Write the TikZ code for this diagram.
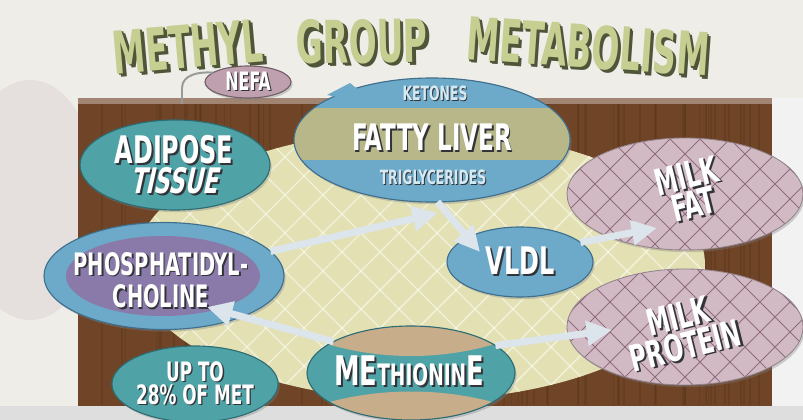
\documentclass[tikz,border=0pt]{standalone}
\usepackage{fontspec}
\usetikzlibrary{arrows.meta,shapes.geometric,shadows,calc}
\newfontfamily\impact[FakeStretch=0.7]{DejaVu Sans Condensed Bold}
\newfontfamily\impactsl[FakeStretch=0.7,FakeSlant=0.22]{DejaVu Sans Condensed Bold}
\newfontfamily\titlefont[FakeStretch=0.62]{DejaVu Sans Condensed Bold}

\definecolor{paper}{HTML}{EEEDE8}
\definecolor{board}{HTML}{6F4427}
\definecolor{boarddark}{HTML}{4E2E16}
\definecolor{pale}{HTML}{E3E1B3}
\definecolor{tealblob}{HTML}{4FA3A6}
\definecolor{tealedge}{HTML}{2E6C74}
\definecolor{sky}{HTML}{6DA9C8}
\definecolor{skyedge}{HTML}{3E6F8C}
\definecolor{skytext}{HTML}{D5E9F3}
\definecolor{khaki}{HTML}{B7B78A}
\definecolor{plum}{HTML}{8A7AAA}
\definecolor{mauve}{HTML}{BFA0AE}
\definecolor{milk}{HTML}{D2BAC5}
\definecolor{milkline}{HTML}{8E6C7C}
\definecolor{tanband}{HTML}{C8AD8A}
\definecolor{arrowfill}{HTML}{DCE5EC}
\definecolor{ttlface}{HTML}{C7CE91}
\definecolor{ttlshade}{HTML}{4E5538}
\definecolor{txtshade}{HTML}{33343A}

% white lettering with a dark drop
\newcommand{\sh}[1]{\leavevmode\rlap{\kern0.05em\raisebox{-0.05em}{\color{txtshade}#1}}#1}
% title lettering, pale face on a dark side
\newcommand{\ttl}[1]{\leavevmode\rlap{\kern2.4pt\raisebox{-2.4pt}{\color{ttlshade}#1}}\rlap{\kern1.2pt\raisebox{-1.2pt}{\color{ttlshade}#1}}{\color{ttlface}#1}}

\tikzset{
  blob/.style 2 args={ellipse, inner sep=0pt, outer sep=0pt,
    minimum width=#1*0.025cm, minimum height=#2*0.025cm,
    drop shadow={opacity=0.35, shadow xshift=1.2pt, shadow yshift=-1.6pt}},
  lbl/.style={text=white, align=center, inner sep=0pt},
  ttlword/.style={inner sep=0pt, font=\titlefont\fontsize{42}{42}\selectfont},
  bigarrow/.style={draw=arrowfill, line width=5pt, -{Triangle[length=18pt,width=17pt]}},
  greyline/.style={draw=black!40, line width=1.4pt},
  lattice/.style={draw=milkline, line width=0.6pt},
}

\begin{document}
\begin{tikzpicture}[x=0.025cm, y=-0.025cm]
\useasboundingbox (0,0) rectangle (803,420);

% backdrop
\fill[paper] (0,0) rectangle (803,420);
\fill[mauve!18!paper] (30,200) ellipse [x radius=70, y radius=120];
\fill[black!13] (0,406) rectangle (803,420);
\fill[black!5] (772,98) rectangle (803,406);

% wooden board
\fill[board] (78,98) rectangle (772,406);
\pgfmathsetseed{7}
\foreach \i in {1,...,70} {
  \pgfmathsetmacro\gx{80+690*rnd}
  \draw[boarddark, opacity=0.25, line width=1.3pt] (\gx,104) -- (\gx,405);
}
\fill[board!65!white] (78,98) rectangle (772,104);

% pale field
\begin{scope}
  \clip (420,265) ellipse [x radius=285, y radius=135];
  \fill[pale] (100,100) rectangle (760,420);
  \foreach \k in {-10,...,28} {
    \draw[white, opacity=0.55, line width=1pt] (\k*38,100) -- ++(320,320);
    \draw[white, opacity=0.55, line width=1pt] (\k*38,100) -- ++(-320,320);
  }
\end{scope}

% nefa link
\coordinate (nefaEnd) at (182,104);

% blobs
\node[blob={86}{32}, fill=mauve, draw=mauve!60!black, line width=0.8pt,
  font=\impact\fontsize{18}{18}\selectfont, text=white] (nefa) at (248,82) {\sh{NEFA}};
\draw[greyline] (nefa.165) to[out=175, in=90] (182,88) -- (nefaEnd);

\node[blob={276}{124}, fill=sky, draw=skyedge, line width=0.8pt,
  path picture={\begin{scope}[shift={(path picture bounding box.center)}]
    \fill[khaki] (-150,-32) rectangle (150,20);
  \end{scope}}] (liver) at (432,140) {};
\fill[sky] ([shift={(-105,-45)}]liver.center) -- ([shift={(-82,-57)}]liver.center)
  -- ([shift={(-55,-35)}]liver.center) -- cycle;
\node[lbl, text=skytext, font=\impact\fontsize{14}{14}\selectfont] (ketones) at (435,94) {\sh{KETONES}};
\node[lbl, font=\impact\fontsize{26}{26}\selectfont] (fattyliver) at (432,138) {\sh{FATTY LIVER}};
\node[lbl, text=skytext, font=\impact\fontsize{14}{14}\selectfont] (trig) at (433,178) {\sh{TRIGLYCERIDES}};

\node[blob={190}{90}, fill=tealblob, draw=tealedge, line width=0.8pt] (adipose) at (175,165) {};
\node[lbl] (adiposeT) at (174,166) {{\impact\fontsize{27}{20}\selectfont\sh{ADIPOSE}}\\
  {\impactsl\fontsize{25}{20}\selectfont\sh{TISSUE}}};

\node[blob={240}{107}, fill=sky, draw=skyedge, line width=0.8pt,
  path picture={\begin{scope}[shift={(path picture bounding box.center)}]
    \fill[plum] (-1,0) ellipse [x radius=97, y radius=40];
  \end{scope}}] (pc) at (164,276) {};
\node[lbl, font=\impact\fontsize{22}{23}\selectfont] (pcT) at (161,281) {\sh{PHOSPHATIDYL-}\\\sh{CHOLINE}};

\node[blob={146}{70}, fill=sky, draw=skyedge, line width=0.8pt,
  font=\impact\fontsize{27}{27}\selectfont, text=white] (vldl) at (520,262) {\sh{VLDL}};

\node[blob={236}{112}, fill=milk, draw=milk!70!black, line width=0.6pt,
  path picture={\begin{scope}[shift={(path picture bounding box.center)}]
    \foreach \k in {-12,...,12} {
      \draw[lattice] (\k*30,-70) -- ++(140,140);
      \draw[lattice] (\k*30,-70) -- ++(-140,140);
    }
  \end{scope}}] (milkfat) at (685,194) {};
\node[lbl, rotate=14, font=\impact\fontsize{26}{19}\selectfont] (milkfatT) at (690,191) {\sh{MILK}\\\sh{FAT}};

\node[blob={236}{116}, fill=milk, draw=milk!70!black, line width=0.6pt,
  path picture={\begin{scope}[shift={(path picture bounding box.center)}]
    \foreach \k in {-12,...,12} {
      \draw[lattice] (\k*30,-70) -- ++(140,140);
      \draw[lattice] (\k*30,-70) -- ++(-140,140);
    }
  \end{scope}}] (milkprot) at (685,327) {};
\node[lbl, rotate=14, font=\impact\fontsize{26}{19}\selectfont] (milkprotT) at (682,332) {\sh{MILK}\\\sh{PROTEIN}};

\node[blob={208}{94}, fill=tealblob, draw=tealedge, line width=0.8pt,
  path picture={\begin{scope}[shift={(path picture bounding box.center)}]
    \fill[tanband] (-110,-38) .. controls (-40,-10) and (40,-10) .. (110,-38) -- (110,-60) -- (-110,-60) -- cycle;
    \fill[tanband] (-110,38) .. controls (-40,12) and (40,12) .. (110,38) -- (110,60) -- (-110,60) -- cycle;
  \end{scope}}] (meth) at (411,373) {};
\node[lbl, font=\impact\fontsize{29}{29}\selectfont] (methT) at (409,372)
  {\sh{ME{\fontsize{21}{21}\selectfont THIONIN}E}};

\node[blob={156}{76}, fill=tealblob, draw=tealedge, line width=0.8pt,
  font=\impact\fontsize{19}{14.5}\selectfont, text=white, align=center] (upto) at (195,384)
  {\sh{UP TO}\\\sh{28\% OF MET}};

% arrows
\draw[bigarrow] (pc.13) -- ([shift={(-82,-49)}]vldl.center);
\draw[bigarrow] (liver.-85) -- ([shift={(-40,-10)}]vldl.center);
\draw[bigarrow] (vldl.18) -- ([shift={(-28,34)}]milkfat.center);
\draw[bigarrow] (meth.158) -- ([shift={(43,31)}]pc.center);
\draw[bigarrow] (meth.18) -- ([shift={(-73,3)}]milkprot.center);

% title
\node[ttlword, rotate=5] (ttlA) at (188,48) {\ttl{METHYL}};
\node[ttlword, rotate=1] (ttlB) at (362,43) {\ttl{GROUP}};
\node[ttlword, rotate=-4] (ttlC) at (588,48) {\ttl{METABOLISM}};
\end{tikzpicture}
\end{document}
